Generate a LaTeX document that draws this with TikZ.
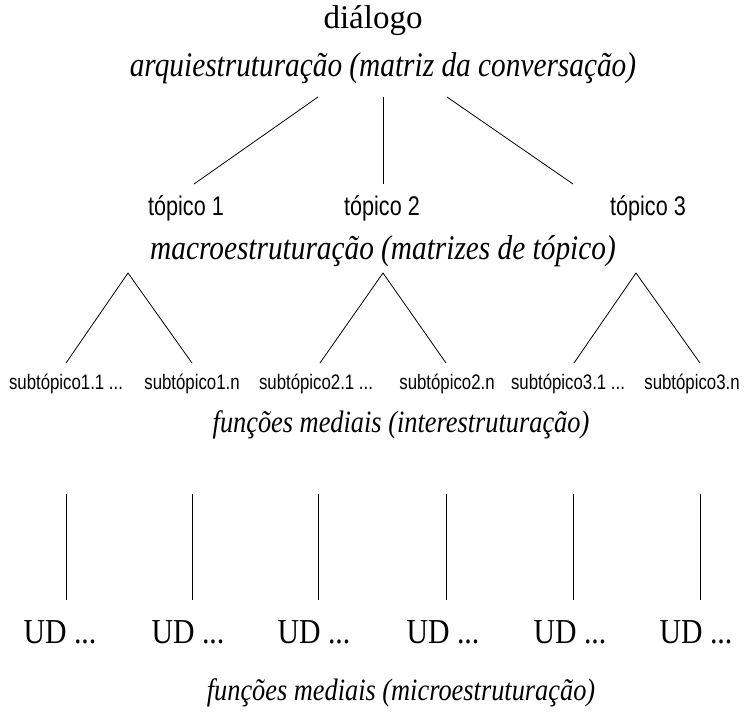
\documentclass[tikz,border=0pt]{standalone}
\usepackage{fontspec}
\setmainfont{Liberation Serif}[FakeStretch=0.85]
\newfontfamily\narrowsans{Liberation Sans}[FakeStretch=0.8]
\newfontfamily\wideserif{Liberation Serif}
\begin{document}
\begin{tikzpicture}[x=1pt,y=-1pt,
  lbl/.style={anchor=base,inner sep=0pt},
  ttl/.style={lbl,font=\fontsize{33}{38}\selectfont\wideserif},
  itl/.style={lbl,font=\fontsize{34.5}{40}\selectfont\itshape},
  itlb/.style={lbl,font=\fontsize{31}{36}\selectfont\itshape},
  tp/.style={lbl,font=\fontsize{27}{30}\selectfont\narrowsans},
  sub/.style={lbl,font=\fontsize{21}{24}\selectfont\narrowsans},
  ud/.style={lbl,font=\fontsize{35}{40}\selectfont},
  ln/.style={line width=0.8pt}]
\useasboundingbox (0,0) rectangle (745,721);
\node[ttl] (dia) at (373,28) {diálogo};
\node[itl] (arq) at (383,76) {arquiestruturação (matriz da conversação)};
\node[tp] (t1) at (186,215) {tópico 1};
\node[tp] (t2) at (382,215) {tópico 2};
\node[tp] (t3) at (648,215) {tópico 3};
\node[itl] (mac) at (383,259) {macroestruturação (matrizes de tópico)};
\node[sub] (s11) at (66,389) {subtópico1.1 ...};
\node[sub] (s1n) at (192,389) {subtópico1.n};
\node[sub] (s21) at (316,389) {subtópico2.1 ...};
\node[sub] (s2n) at (447,389) {subtópico2.n};
\node[sub] (s31) at (568,389) {subtópico3.1 ...};
\node[sub] (s3n) at (692,389) {subtópico3.n};
\node[itlb] (int) at (401,432) {funções mediais (interestruturação)};
\foreach \i/\x in {1/60,2/188,3/314,4/443,5/570,6/696}
  \node[ud] (u\i) at (\x,643) {UD ...};
\node[itlb] (mic) at (401,700) {funções mediais (microestruturação)};
% coordinates for connector ends
\coordinate (a1) at (318,97);
\coordinate (a2) at (383,97);
\coordinate (a3) at (447,97);
\coordinate (b1) at (194,184);
\coordinate (b2) at (383,184);
\coordinate (b3) at (573,184);
\draw[ln] (a1) -- (b1);
\draw[ln] (a2) -- (b2);
\draw[ln] (a3) -- (b3);
\foreach \k/\ax/\lx/\rx in {1/128/66/192,2/383/320/446,3/636/574/700}{
  \coordinate (p\k) at (\ax,273);
  \coordinate (l\k) at (\lx,363);
  \coordinate (r\k) at (\rx,363);
  \draw[ln] (l\k) -- (p\k) -- (r\k);
}
\foreach \i/\x in {1/66,2/192,3/318,4/446,5/573,6/700}{
  \coordinate (vt\i) at (\x,494);
  \coordinate (vb\i) at (\x,600);
  \draw[ln] (vt\i) -- (vb\i);
}
\end{tikzpicture}
\end{document}
